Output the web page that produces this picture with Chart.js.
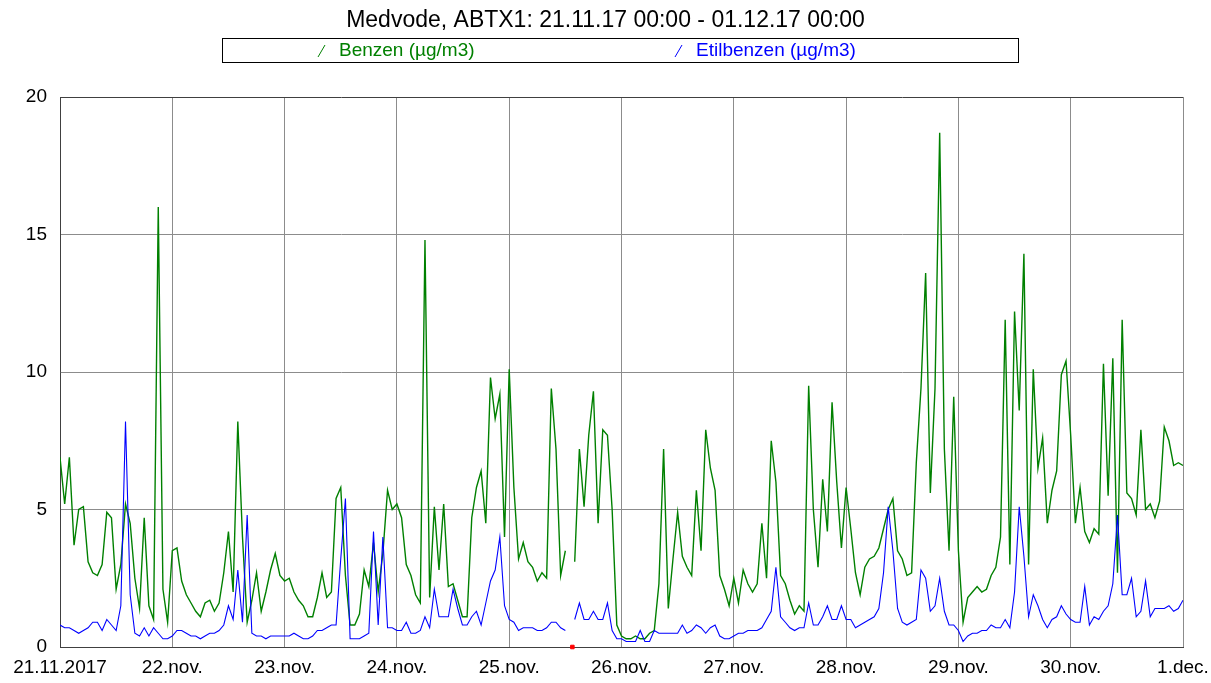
<!DOCTYPE html>
<html>
<head>
<meta charset="utf-8">
<title>Medvode, ABTX1</title>
<script src="https://cdn.jsdelivr.net/npm/chart.js@4.4.0/dist/chart.umd.min.js"></script>
<style>
  html, body { margin: 0; padding: 0; background: #fff; }
  canvas { display: block; }
</style>
</head>
<body>
<canvas id="chart" width="1211" height="683"></canvas>
<script>
// day labels on the x axis (one every 24 hourly samples)
const dayLabels = ["21.11.2017", "22.nov.", "23.nov.", "24.nov.", "25.nov.", "26.nov.",
  "27.nov.", "28.nov.", "29.nov.", "30.nov.", "1.dec."];

// hourly values, 21.11.17 00:00 - 01.12.17 00:00 (null = missing)
const benzen = [
  6.9, 5.2, 6.9, 3.7, 5.0, 5.1, 3.1, 2.7, 2.6, 3.0, 4.9, 4.7, 2.1, 3.0, 5.2, 4.5, 2.5, 1.4, 4.7, 1.5, 1.0, 16.0, 2.1, 0.9,
  3.5, 3.6, 2.4, 1.9, 1.6, 1.3, 1.1, 1.6, 1.7, 1.3, 1.6, 2.7, 4.2, 2.0, 8.2, 4.0, 0.9, 1.7, 2.7, 1.3, 2.0, 2.8, 3.4, 2.6,
  2.4, 2.5, 2.0, 1.7, 1.5, 1.1, 1.1, 1.8, 2.7, 1.8, 2.0, 5.4, 5.8, 2.6, 0.8, 0.8, 1.2, 2.8, 2.2, 3.8, 2.0, 3.4, 5.7, 5.0,
  5.2, 4.7, 3.0, 2.6, 1.9, 1.6, 14.8, 1.8, 5.1, 2.8, 5.2, 2.2, 2.3, 1.7, 1.1, 1.1, 4.7, 5.8, 6.4, 4.5, 9.8, 8.3, 9.2, 4.0,
  10.1, 5.8, 3.2, 3.8, 3.1, 2.9, 2.4, 2.7, 2.5, 9.4, 7.2, 2.6, 3.5, null, 3.1, 7.2, 5.1, 7.7, 9.3, 4.5, 7.9, 7.7, 5.0, 0.8,
  0.4, 0.3, 0.3, 0.4, 0.3, 0.3, 0.5, 0.6, 2.3, 7.2, 1.4, 3.2, 4.9, 3.3, 2.9, 2.6, 5.7, 3.5, 7.9, 6.5, 5.7, 2.6, 2.1, 1.5,
  2.5, 1.6, 2.8, 2.3, 2.0, 2.3, 4.5, 2.5, 7.5, 6.0, 2.6, 2.3, 1.7, 1.2, 1.5, 1.3, 9.5, 5.0, 2.9, 6.1, 4.2, 8.9, 6.0, 3.6,
  5.8, 4.3, 2.7, 1.9, 2.9, 3.2, 3.3, 3.6, 4.3, 5.0, 5.4, 3.5, 3.2, 2.6, 2.7, 6.7, 9.4, 13.6, 5.6, 9.4, 18.7, 7.2, 3.5, 9.1,
  3.5, 0.9, 1.8, 2.0, 2.2, 2.0, 2.1, 2.6, 2.9, 4.0, 11.9, 3.0, 12.2, 8.6, 14.3, 3.0, 10.1, 6.5, 7.6, 4.5, 5.7, 6.4, 9.9, 10.4,
  7.7, 4.5, 5.8, 4.2, 3.8, 4.3, 4.1, 10.3, 5.5, 10.5, 2.7, 11.9, 5.6, 5.4, 4.8, 7.9, 5.0, 5.2, 4.7, 5.3, 8.0, 7.5, 6.6, 6.7,
  6.6
];

const etilbenzen = [
  0.8, 0.7, 0.7, 0.6, 0.5, 0.6, 0.7, 0.9, 0.9, 0.6, 1.0, 0.8, 0.6, 1.5, 8.2, 1.9, 0.5, 0.4, 0.7, 0.4, 0.7, 0.5, 0.3, 0.3,
  0.4, 0.6, 0.6, 0.5, 0.4, 0.4, 0.3, 0.4, 0.5, 0.5, 0.6, 0.8, 1.5, 1.0, 2.8, 0.9, 4.8, 0.5, 0.4, 0.4, 0.3, 0.4, 0.4, 0.4,
  0.4, 0.4, 0.5, 0.4, 0.3, 0.3, 0.4, 0.6, 0.6, 0.7, 0.8, 0.8, 3.2, 5.4, 0.3, 0.3, 0.3, 0.4, 0.5, 4.2, 0.8, 4.0, 0.7, 0.7,
  0.6, 0.6, 0.9, 0.5, 0.5, 0.6, 1.1, 0.7, 2.1, 1.1, 1.1, 1.1, 2.1, 1.4, 0.8, 0.8, 1.1, 1.3, 0.8, 1.6, 2.4, 2.8, 4.0, 1.5,
  1.0, 0.9, 0.6, 0.7, 0.7, 0.7, 0.6, 0.6, 0.7, 0.9, 0.9, 0.7, 0.6, null, 1.0, 1.6, 1.0, 1.0, 1.3, 1.0, 1.0, 1.6, 0.6, 0.3,
  0.3, 0.2, 0.2, 0.2, 0.6, 0.2, 0.2, 0.6, 0.5, 0.5, 0.5, 0.5, 0.5, 0.8, 0.5, 0.6, 0.8, 0.7, 0.5, 0.7, 0.8, 0.4, 0.3, 0.3,
  0.4, 0.5, 0.5, 0.6, 0.6, 0.6, 0.7, 1.0, 1.3, 2.9, 1.1, 0.9, 0.7, 0.6, 0.7, 0.7, 1.6, 0.8, 0.8, 1.1, 1.5, 1.0, 1.0, 1.5,
  1.0, 1.0, 0.7, 0.8, 0.9, 1.0, 1.1, 1.4, 2.7, 5.1, 3.5, 1.4, 0.9, 0.8, 0.9, 1.0, 2.8, 2.5, 1.3, 1.5, 2.5, 1.3, 0.8, 0.8,
  0.6, 0.2, 0.4, 0.5, 0.5, 0.6, 0.6, 0.8, 0.7, 0.7, 1.0, 0.7, 2.0, 5.1, 3.3, 1.1, 1.9, 1.5, 1.0, 0.7, 1.0, 1.1, 1.5, 1.2,
  1.0, 0.9, 0.9, 2.2, 0.8, 1.1, 1.0, 1.3, 1.5, 2.3, 4.8, 1.9, 1.9, 2.5, 1.1, 1.3, 2.4, 1.1, 1.4, 1.4, 1.4, 1.5, 1.3, 1.4,
  1.7
];

// hour where the data-gap marker sits on the time axis
const missingHours = [109.5];

const hours = benzen.map((_, i) => i);
const FONT = "'Liberation Sans', Arial, sans-serif";

// boxed legend like the original (slash + coloured label)
const legendBox = {
  id: "legendBox",
  afterDraw(chart) {
    const ctx = chart.ctx;
    ctx.save();
    ctx.strokeStyle = "#000";
    ctx.lineWidth = 1;
    ctx.strokeRect(222.5, 38.5, 796, 24);
    ctx.font = "19px " + FONT;
    ctx.textBaseline = "middle";
    [{ x: 318, ds: 0 }, { x: 675, ds: 1 }].forEach(it => {
      const ds = chart.data.datasets[it.ds];
      ctx.strokeStyle = ds.borderColor;
      ctx.beginPath();
      ctx.moveTo(it.x, 57);
      ctx.lineTo(it.x + 7, 45);
      ctx.stroke();
      ctx.fillStyle = ds.borderColor;
      ctx.fillText(ds.label, it.x + 21, 51);
    });
    ctx.restore();
  }
};

new Chart(document.getElementById("chart"), {
  type: "line",
  data: {
    labels: hours,
    datasets: [
      { label: "Benzen (µg/m3)", data: benzen, borderColor: "#008000", borderWidth: 1.4,
        pointRadius: 0, tension: 0, order: 2 },
      { label: "Etilbenzen (µg/m3)", data: etilbenzen, borderColor: "#0000ff", borderWidth: 1.1,
        pointRadius: 0, tension: 0, order: 1 },
      { type: "scatter", label: "missing", data: missingHours.map(h => ({ x: h, y: 0 })),
        pointStyle: "rect", pointRadius: 2.5, backgroundColor: "#ff0000", borderColor: "#ff0000",
        clip: false, order: 0 }
    ]
  },
  options: {
    responsive: false,
    animation: false,
    layout: { padding: { left: 0, right: 0, top: 0, bottom: 5 } },
    plugins: {
      legend: { display: false },
      tooltip: { enabled: false },
      title: {
        display: true,
        text: "Medvode, ABTX1: 21.11.17 00:00 - 01.12.17 00:00",
        color: "#000",
        font: { family: FONT, size: 23, weight: "normal" },
        padding: { top: 7, bottom: 62.4 }
      }
    },
    scales: {
      x: {
        type: "linear",
        min: 0,
        max: 240,
        afterFit: s => { s.height = 31; s.paddingLeft = 0; s.paddingRight = 28; },
        ticks: {
          stepSize: 24,
          autoSkip: false,
          maxRotation: 0,
          padding: 9,
          color: "#000",
          font: { family: FONT, size: 19 },
          callback: v => dayLabels[v / 24]
        },
        grid: { color: "#8c8c8c", drawTicks: false },
        border: { color: "#404040" }
      },
      y: {
        min: 0,
        max: 20,
        afterFit: s => { s.width = 60; },
        ticks: {
          stepSize: 5,
          padding: 13,
          color: "#000",
          font: { family: FONT, size: 19 }
        },
        grid: {
          color: c => c.tick.value === 20 ? "#404040" : "#8c8c8c",
          drawTicks: false
        },
        border: { color: "#404040" }
      }
    }
  },
  plugins: [legendBox]
});
</script>
</body>
</html>
